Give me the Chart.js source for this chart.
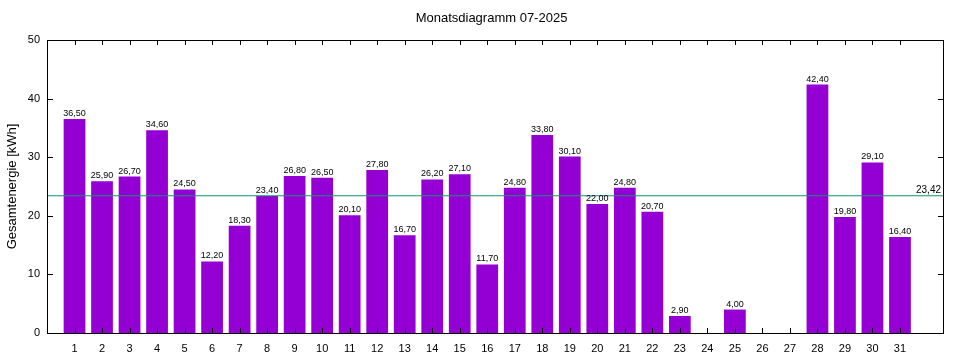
<!DOCTYPE html>
<html>
<head>
<meta charset="utf-8">
<script src="https://cdn.jsdelivr.net/npm/chart.js@4"></script>
<style>
  html, body { margin: 0; padding: 0; background: #fff; }
  #wrap { width: 960px; height: 360px; }
</style>
</head>
<body>
<div id="wrap"><canvas id="chart" width="960" height="360"></canvas></div>
<script>
const days = [1,2,3,4,5,6,7,8,9,10,11,12,13,14,15,16,17,18,19,20,21,22,23,24,25,26,27,28,29,30,31];
const energy = [36.5,25.9,26.7,34.6,24.5,12.2,18.3,23.4,26.8,26.5,20.1,27.8,16.7,26.2,27.1,11.7,24.8,33.8,30.1,22.0,24.8,20.7,2.9,0,4.0,0,0,42.4,19.8,29.1,16.4];
const average = 23.42;
const yTicks = [0, 10, 20, 30, 40, 50];
const title = "Monatsdiagramm 07-2025";
const yTitle = "Gesamtenergie [kWh]";

const FONT = "'Liberation Sans', Arial, sans-serif";
const xMax = 32.6;

const fmt = v => v.toFixed(2).replace(".", ",");

const framePlugin = {
  id: "frame",
  afterDatasetsDraw(chart) {
    const { ctx, chartArea: a, scales: { x, y } } = chart;
    ctx.save();
    // value labels
    ctx.font = "9px " + FONT;
    ctx.fillStyle = "#000";
    ctx.textAlign = "center";
    ctx.textBaseline = "bottom";
    energy.forEach((v, i) => {
      if (v <= 0) return;
      ctx.fillText(fmt(v), x.getPixelForValue(days[i]), y.getPixelForValue(v) - 1);
    });
    // average label
    ctx.font = "10px " + FONT;
    ctx.textAlign = "right";
    ctx.fillText(fmt(average), a.right - 3, y.getPixelForValue(average) - 1);
    // frame
    ctx.strokeStyle = "#000";
    ctx.lineWidth = 1;
    ctx.strokeRect(Math.round(a.left) + 0.5, Math.round(a.top) + 0.5,
      Math.round(a.right - a.left) - 1, Math.round(a.bottom - a.top));
    // inward ticks
    ctx.beginPath();
    yTicks.forEach(t => {
      const py = Math.round(y.getPixelForValue(t)) + 0.5;
      ctx.moveTo(a.left, py); ctx.lineTo(a.left + 6, py);
      ctx.moveTo(a.right, py); ctx.lineTo(a.right - 6, py);
    });
    days.forEach(d => {
      const px = Math.round(x.getPixelForValue(d)) + 0.5;
      ctx.moveTo(px, a.bottom); ctx.lineTo(px, a.bottom - 5);
      ctx.moveTo(px, a.top); ctx.lineTo(px, a.top + 5);
    });
    ctx.stroke();
    // title
    ctx.font = "13px " + FONT;
    ctx.textAlign = "center";
    ctx.textBaseline = "middle";
    ctx.fillText(title, (a.left + a.right) / 2 - 4, 18);
    ctx.restore();
  }
};

new Chart(document.getElementById("chart"), {
  type: "bar",
  data: {
    datasets: [
      {
        type: "line",
        data: [{ x: 0, y: average }, { x: xMax, y: average }],
        borderColor: "#0e9474",
        borderWidth: 1,
        pointRadius: 0,
        order: 0
      },
      {
        data: days.map((d, i) => ({ x: d, y: energy[i] })),
        backgroundColor: "#9400d3",
        borderWidth: 0,
        barPercentage: 0.79,
        categoryPercentage: 1,
        order: 1
      }
    ]
  },
  options: {
    responsive: false,
    animation: false,
    layout: { padding: { top: 40, right: 16, left: 0, bottom: 0 } },
    plugins: { legend: { display: false }, tooltip: { enabled: false }, title: { display: false } },
    scales: {
      x: {
        type: "linear",
        offset: false,
        min: 0,
        max: xMax,
        afterBuildTicks: s => { s.ticks = days.map(d => ({ value: d })); },
        afterFit: s => { s.height = 27; },
        grid: { display: false, drawTicks: false, offset: false },
        border: { display: false },
        ticks: {
          padding: 9,
          color: "#000",
          font: { family: FONT, size: 11 },
          maxRotation: 0,
          autoSkip: false,
          callback: v => String(v)
        }
      },
      y: {
        min: 0,
        max: 50,
        afterBuildTicks: s => { s.ticks = yTicks.map(v => ({ value: v })); },
        afterFit: s => { s.width = 47; },
        grid: { display: false, drawTicks: false },
        border: { display: false },
        ticks: {
          padding: 7,
          color: "#000",
          font: { family: FONT, size: 11 }
        },
        title: {
          display: true,
          text: yTitle,
          color: "#000",
          font: { family: FONT, size: 13 },
          padding: { top: 5, bottom: 0 }
        }
      }
    }
  },
  plugins: [framePlugin]
});
</script>
</body>
</html>
